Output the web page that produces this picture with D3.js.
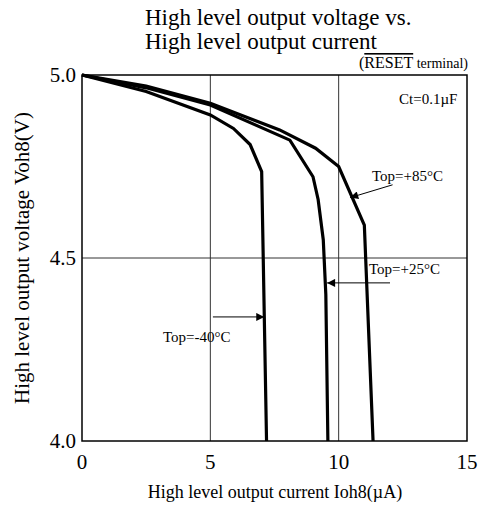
<!DOCTYPE html>
<html><head><meta charset="utf-8">
<script src="https://cdn.jsdelivr.net/npm/d3@7"></script>
<style>body{margin:0;background:#fff}text{font-family:"Liberation Serif","Times New Roman",serif;fill:#000}</style>
</head><body><svg id="c" width="484" height="506"></svg>
<script>
const xTicks = [0, 5, 10, 15];
const yTicks = [4.0, 4.5, 5.0];
const curveM40 = [[0,5.0],[2.5,4.955],[5.0,4.891],[5.9,4.854],[6.55,4.81],[7.0,4.736],[7.19,4.0]];
const curveP25 = [[0,5.0],[2.5,4.965],[5.0,4.918],[8.1,4.822],[9.0,4.722],[9.2,4.66],[9.4,4.55],[9.5,4.4],[9.58,4.0]];
const curveP85 = [[0,5.0],[2.5,4.97],[5.0,4.923],[7.7,4.85],[9.1,4.8],[10.0,4.75],[11.0,4.59],[11.34,4.0]];
const labels = ["Top=-40°C","Top=+25°C","Top=+85°C"];

const svg = d3.select("#c");
const x = d3.scaleLinear().domain([0,15]).range([82,467]);
const y = d3.scaleLinear().domain([4,5]).range([441,75]);

// grid
svg.append("g").selectAll("line").data(xTicks.slice(1,-1)).join("line")
  .attr("x1",d=>x(d)).attr("x2",d=>x(d)).attr("y1",y(4)).attr("y2",y(5))
  .attr("stroke","#333").attr("stroke-width",1);
svg.append("g").selectAll("line").data(yTicks.slice(1,-1)).join("line")
  .attr("x1",x(0)).attr("x2",x(15)).attr("y1",d=>y(d)).attr("y2",d=>y(d))
  .attr("stroke","#333").attr("stroke-width",1);
svg.append("rect").attr("x",x(0)).attr("y",y(5)).attr("width",x(15)-x(0)).attr("height",y(4)-y(5))
  .attr("fill","none").attr("stroke","#000").attr("stroke-width",1.5);

// tick labels
svg.append("g").selectAll("text").data(xTicks).join("text")
  .attr("x",d=>x(d)).attr("y",469).attr("text-anchor","middle").attr("font-size",21).text(d=>d);
svg.append("g").selectAll("text").data(yTicks).join("text")
  .attr("x",76).attr("y",d=>y(d)+7).attr("text-anchor","end").attr("font-size",21).text(d=>d.toFixed(1));

// curves
const line = d3.line().x(d=>x(d[0])).y(d=>y(d[1]));
[curveM40,curveP25,curveP85].forEach(c=>{
  svg.append("path").attr("d",line(c)).attr("fill","none").attr("stroke","#000")
    .attr("stroke-width",3.2).attr("stroke-linejoin","miter");
});

// arrows
const defs = svg.append("defs");
defs.append("marker").attr("id","ah").attr("viewBox","0 0 10 10").attr("refX",10).attr("refY",5)
  .attr("markerWidth",14).attr("markerHeight",8).attr("markerUnits","userSpaceOnUse").attr("orient","auto")
  .append("path").attr("d","M0,0L10,5L0,10Z").attr("fill","#000");
function arrow(x1,y1,x2,y2){
  svg.append("line").attr("x1",x1).attr("y1",y1).attr("x2",x2).attr("y2",y2)
    .attr("stroke","#000").attr("stroke-width",1).attr("marker-end","url(#ah)");
}
arrow(x(5.1), y(4.339), x(7.1), y(4.339));
arrow(x(12.0), y(4.432), x(9.55), y(4.432));
arrow(x(12.1), y(4.70), x(10.45), y(4.665));

svg.append("text").attr("x",163).attr("y",342).attr("font-size",15).text(labels[0]);
svg.append("text").attr("x",369).attr("y",274).attr("font-size",15).text(labels[1]);
svg.append("text").attr("x",372).attr("y",181).attr("font-size",15).text(labels[2]);

svg.append("text").attr("x",399).attr("y",104).attr("font-size",15).text("Ct=0.1µF");

// titles
svg.append("text").attr("x",145).attr("y",25).attr("font-size",23).text("High level output voltage vs.");
svg.append("text").attr("x",145).attr("y",49).attr("font-size",23).text("High level output current");
const rt = svg.append("text").attr("x",468).attr("y",68).attr("text-anchor","end").attr("font-size",16);
rt.append("tspan").text("(");
rt.append("tspan").style("text-decoration","overline").text("RESET");
rt.append("tspan").attr("font-size",14).text(" terminal)");

svg.append("text").attr("x",275).attr("y",498).attr("text-anchor","middle").attr("font-size",18)
  .text("High level output current Ioh8(µA)");
svg.append("text").attr("transform","translate(29,258) rotate(-90)").attr("text-anchor","middle")
  .attr("font-size",21).text("High level output voltage Voh8(V)");
</script></body></html>
